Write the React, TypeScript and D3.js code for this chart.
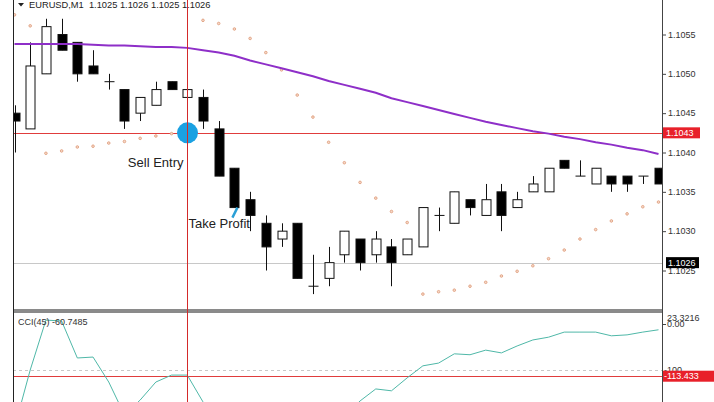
import * as d3 from "d3";

// M1 bars, oldest first
const opens = [1.1045, 1.1043, 1.105, 1.1055, 1.1054, 1.1051, 1.1049, 1.1048, 1.1045, 1.1046, 1.1049, 1.1047, 1.1047, 1.1043, 1.1038, 1.1034, 1.1031, 1.1029, 1.1031, 1.1023, 1.1024, 1.1027, 1.1029, 1.1027, 1.1028, 1.1027, 1.1028, 1.1032, 1.1031, 1.1034, 1.1032, 1.1035, 1.1033, 1.1035, 1.1035, 1.1039, 1.1037, 1.1036, 1.1037, 1.1037, 1.1037, 1.1038];
const highs = [1.1046, 1.1054, 1.1057, 1.1057, 1.1054, 1.1053, 1.105, 1.1048, 1.1047, 1.1049, 1.1049, 1.1048, 1.1048, 1.1044, 1.1038, 1.1035, 1.1032, 1.1031, 1.1031, 1.1027, 1.1028, 1.103, 1.1029, 1.103, 1.1029, 1.1029, 1.1033, 1.1033, 1.1035, 1.1034, 1.1036, 1.1036, 1.1035, 1.1037, 1.1038, 1.1039, 1.1039, 1.1038, 1.1037, 1.1037, 1.1037, 1.1038];
const lows = [1.104, 1.1043, 1.105, 1.1053, 1.1049, 1.105, 1.1048, 1.1043, 1.1044, 1.1046, 1.1048, 1.1047, 1.1043, 1.1037, 1.1033, 1.103, 1.1025, 1.1028, 1.1024, 1.1022, 1.1023, 1.1026, 1.1025, 1.1026, 1.1023, 1.1027, 1.1028, 1.103, 1.1031, 1.1032, 1.1032, 1.103, 1.1033, 1.1035, 1.1035, 1.1038, 1.1037, 1.1036, 1.1035, 1.1035, 1.1036, 1.1036];
const closes = [1.1044, 1.1051, 1.1056, 1.1053, 1.105, 1.105, 1.1049, 1.1044, 1.1047, 1.1048, 1.1048, 1.1048, 1.1044, 1.1037, 1.1033, 1.1032, 1.1028, 1.103, 1.1024, 1.1023, 1.1026, 1.103, 1.1026, 1.1029, 1.1026, 1.1029, 1.1033, 1.1032, 1.1035, 1.1033, 1.1034, 1.1032, 1.1034, 1.1036, 1.1038, 1.1038, 1.1037, 1.1038, 1.1036, 1.1036, 1.1037, 1.1036];

const maValues = [1.10538, 1.10538, 1.10538, 1.10538, 1.10538, 1.10537, 1.10536, 1.10536, 1.10535, 1.10534, 1.10534, 1.10533, 1.1053, 1.10527, 1.10523, 1.10517, 1.10512, 1.10507, 1.10502, 1.10497, 1.10491, 1.10486, 1.10481, 1.10476, 1.10469, 1.10464, 1.10459, 1.10454, 1.10449, 1.10444, 1.10439, 1.10435, 1.10431, 1.10427, 1.10424, 1.1042, 1.10417, 1.10413, 1.1041, 1.10406, 1.10403, 1.10398];
const sarValues = [1.10575, 1.10561, 1.10399, 1.10402, 1.10407, 1.10408, 1.10412, 1.10414, 1.10418, 1.10421, 1.10424, 1.10427, 1.10568, 1.10564, 1.10557, 1.10545, 1.10527, 1.10505, 1.10473, 1.10445, 1.10413, 1.10387, 1.10362, 1.10342, 1.10325, 1.10311, 1.1022, 1.10223, 1.10225, 1.1023, 1.10235, 1.10243, 1.10249, 1.10256, 1.10265, 1.10276, 1.1029, 1.10302, 1.10313, 1.10322, 1.10331, 1.10337];
const cciValues = [-225, -100, 8, 6, -74, -72, -126, -197, -165, -126, -111, -111, -169, -230, -265, -270, -255, -240, -250, -235, -220, -200, -167, -141, -145, -117, -91, -85, -65, -67, -57, -63, -48, -35, -29, -18, -18, -18, -26, -24, -18, -13];

const priceTicks = [1.106, 1.1055, 1.105, 1.1045, 1.104, 1.1035, 1.103, 1.1025];
const cciMax = 23.3216;
const cciLevel = -100;
const cciMarker = -113.433;

const titleText = "EURUSD,M1  1.1025 1.1026 1.1025 1.1026";
const cciTitle = "CCI(45) -60.7485";

const entryIndex = 11;
const entryPrice = 1.10425;
const entryLabel = "1.1043";
const bidPrice = 1.1026;
const bidLabel = "1.1026";
const tpIndex = 14;

const left = 13;
const right = 662;
const mainBottom = 309;
const cciTop = 313;
const H = 402;
const font = "'Liberation Sans', Arial, sans-serif";

export default function App() {
  const n = opens.length;
  const x = d3.scaleLinear().domain([0, n - 1]).range([14.5, 658.5]);
  const y = d3.scaleLinear().domain([1.1025, 1.1055]).range([270.5, 34.5]);
  const yc = d3.scaleLinear().domain([cciLevel, cciMax]).range([370, cciTop]);
  const px = (i: number) => Math.round(x(i)) + 0.5;

  const maLine = d3.line<number>().x((_, i) => x(i)).y((d) => y(d));
  const cciLine = d3.line<number>().x((_, i) => x(i)).y((d) => yc(d));

  const entryX = px(entryIndex);
  const entryY = y(entryPrice);
  const tpX = x(tpIndex);
  const tpY = y(closes[tpIndex]);

  return (
    <svg width={714} height={H} style={{ position: "absolute", left: 0, top: 0, background: "#fff" }} fontFamily={font}>
      <defs>
        <clipPath id="mainClip">
          <rect x={left} y={0} width={right - left} height={mainBottom} />
        </clipPath>
        <clipPath id="cciClip">
          <rect x={left} y={cciTop} width={right - left} height={H - cciTop} />
        </clipPath>
      </defs>

      {/* main window */}
      <g clipPath="url(#mainClip)">
        <line x1={left} x2={right} y1={Math.round(y(bidPrice)) + 0.5} y2={Math.round(y(bidPrice)) + 0.5} stroke="#c8c8c8" />
        <line x1={left} x2={right} y1={Math.round(entryY) + 0.5} y2={Math.round(entryY) + 0.5} stroke="#e03c3c" />

        {sarValues.map((v, i) => (
          <circle key={i} cx={x(i)} cy={y(v)} r={1.3} fill="#f6d8c8" stroke="#e0a080" strokeWidth={0.9} />
        ))}

        {opens.map((o, i) => {
          const c = closes[i];
          const cx = px(i);
          const top = y(Math.max(o, c));
          const bot = y(Math.min(o, c));
          const bear = c < o;
          return (
            <g key={i}>
              <line x1={cx} x2={cx} y1={y(highs[i])} y2={y(lows[i])} stroke="#111" />
              {o === c ? (
                <line x1={cx - 5} x2={cx + 5} y1={top} y2={top} stroke="#111" />
              ) : (
                <rect x={cx - 4.5} y={top} width={9} height={bot - top} fill={bear ? "#000" : "#fff"} stroke="#111" />
              )}
            </g>
          );
        })}

        <path d={maLine(maValues) ?? ""} fill="none" stroke="#8e2fc8" strokeWidth={2} />

        <circle cx={entryX} cy={entryY} r={10.5} fill="#1ba1e2" />
        <text x={entryX - 4} y={entryY + 34} fontSize={13} fill="#222" textAnchor="end">Sell Entry</text>
        <line x1={tpX - 2} y1={tpY + 10} x2={tpX + 3} y2={tpY} stroke="#2a9fd6" strokeWidth={2.5} />
        <text x={entryX + 1} y={tpY + 20} fontSize={13} fill="#222">Take Profit</text>
      </g>

      {/* title */}
      <path d="M18,3 L24,3 L21,6.5 Z" fill="#222" />
      <text x={29} y={7.5} fontSize={9.3} fill="#222" style={{ whiteSpace: "pre" }}>{titleText}</text>

      {/* separator */}
      <rect x={left} y={mainBottom} width={right - left} height={cciTop - mainBottom} fill="#8a8a8a" />

      {/* CCI window */}
      <g clipPath="url(#cciClip)">
        <line x1={left} x2={right} y1={Math.round(yc(cciLevel)) + 0.5} y2={Math.round(yc(cciLevel)) + 0.5} stroke="#c8c8c8" strokeDasharray="3,3" />
        <line x1={left} x2={right} y1={Math.round(yc(cciMarker)) + 0.5} y2={Math.round(yc(cciMarker)) + 0.5} stroke="#e03c3c" />
        <path d={cciLine(cciValues) ?? ""} fill="none" stroke="#4fb8a8" strokeWidth={1} />
      </g>
      <text x={18} y={325} fontSize={9} fill="#333">{cciTitle}</text>

      {/* vertical entry line */}
      <line x1={entryX} x2={entryX} y1={0} y2={H} stroke="#d42a2a" />

      {/* axes */}
      <line x1={left + 0.5} x2={left + 0.5} y1={0} y2={H} stroke="#222" />
      <line x1={right + 0.5} x2={right + 0.5} y1={0} y2={H} stroke="#444" />

      {priceTicks.map((t) => (
        <g key={t} transform={`translate(0,${y(t)})`}>
          <line x1={right} x2={right + 4} y1={0.5} y2={0.5} stroke="#444" />
          <text x={668} dy="0.35em" fontSize={9} fill="#333">{t.toFixed(4)}</text>
        </g>
      ))}

      <rect x={right + 1} y={entryY - 5.5} width={37} height={11} fill="#e8202a" />
      <text x={666} y={entryY} dy="0.35em" fontSize={9} fill="#fff">{entryLabel}</text>
      <rect x={right + 4} y={y(bidPrice) - 5.5} width={33} height={11} fill="#000" />
      <text x={668} y={y(bidPrice)} dy="0.35em" fontSize={9} fill="#fff">{bidLabel}</text>

      {/* CCI scale */}
      <text x={667} y={318} dy="0.35em" fontSize={9} fill="#333">{cciMax.toFixed(4)}</text>
      <line x1={right} x2={right + 4} y1={Math.round(yc(0)) + 0.5} y2={Math.round(yc(0)) + 0.5} stroke="#444" />
      <text x={667} y={yc(0)} dy="0.35em" fontSize={9} fill="#333">{(0).toFixed(2)}</text>
      <text x={664} y={yc(cciLevel)} dy="0.35em" fontSize={9} fill="#333">{cciLevel}</text>
      <rect x={right + 1} y={yc(cciMarker) - 5.5} width={60} height={11} fill="#e8202a" />
      <text x={664} y={yc(cciMarker)} dy="0.35em" fontSize={9} fill="#fff">{cciMarker.toFixed(3)}</text>
    </svg>
  );
}
